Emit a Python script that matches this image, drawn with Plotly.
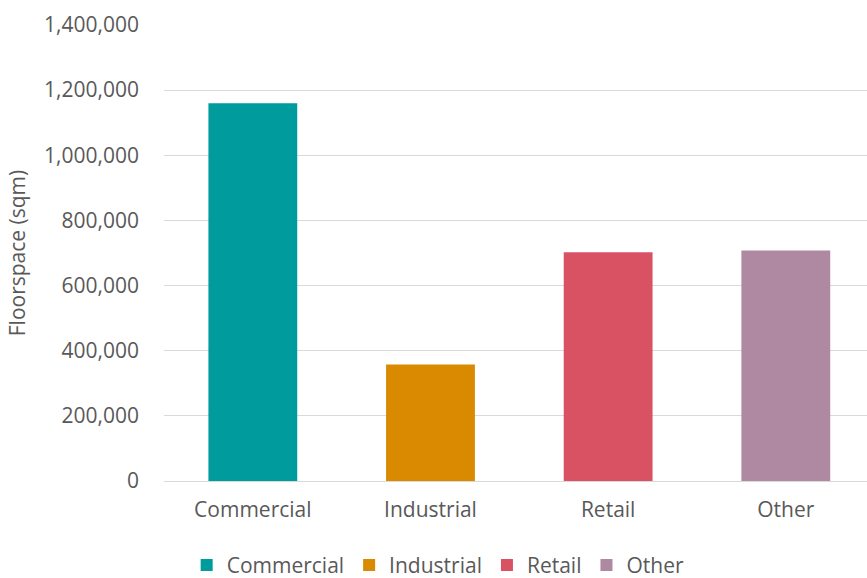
import plotly.graph_objects as go

# Floorspace by use class (square metres)
categories = ["Commercial", "Industrial", "Retail", "Other"]
floorspace = [1160000, 358000, 702000, 708000]
bar_colors = ["#009B9D", "#D98A00", "#D85263", "#AE89A1"]

tick_values = [0, 200000, 400000, 600000, 800000, 1000000, 1200000, 1400000]
tick_labels = ["0", "200,000", "400,000", "600,000", "800,000",
               "1,000,000", "1,200,000", "1,400,000"]

text_color = "#595959"
font_family = "Open Sans, Segoe UI, sans-serif"
font_size = 21

fig = go.Figure()
for cat, val, col in zip(categories, floorspace, bar_colors):
    fig.add_trace(go.Bar(
        x=[cat], y=[val], name=cat,
        marker=dict(color=col, line=dict(width=0)),
        width=0.5,
    ))

fig.update_layout(
    width=867, height=578,
    margin=dict(l=164, r=0, t=25, b=97, autoexpand=False),
    paper_bgcolor="white", plot_bgcolor="white",
    barmode="overlay",
    font=dict(family=font_family, size=font_size, color=text_color),
    showlegend=True,
    legend=dict(
        orientation="h", xanchor="center", yanchor="middle",
        x=0.39, y=-0.185,
        font=dict(size=font_size, color=text_color),
        itemwidth=30, traceorder="normal",
    ),
    xaxis=dict(
        categoryorder="array", categoryarray=categories,
        range=[-0.5, 3.457],
        showgrid=False, zeroline=False, showline=False,
        ticks="", ticklabelstandoff=14,
        tickfont=dict(size=font_size, color=text_color),
    ),
    yaxis=dict(
        range=[0, 1400000],
        tickvals=tick_values, ticktext=tick_labels,
        showgrid=True, gridcolor="#D9D9D9", gridwidth=1,
        zeroline=True, zerolinecolor="#D9D9D9", zerolinewidth=1,
        showline=False, ticks="", ticklabelstandoff=24,
        tickfont=dict(size=font_size, color=text_color),
        title=dict(text="Floorspace (sqm)", standoff=12,
                   font=dict(size=font_size, color=text_color)),
    ),
)

fig.write_html("out.html")
